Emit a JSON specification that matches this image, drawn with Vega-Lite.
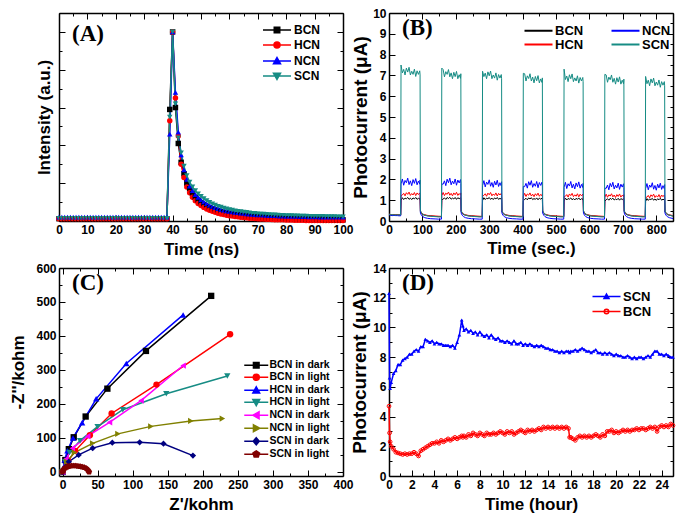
{
"$schema":"https://vega.github.io/schema/vega-lite/v6.json",
"background":"white",
"padding":{"left":9,"top":7,"right":5,"bottom":5},
"columns":2,
"bounds":"flush",
"spacing":{"row":47,"column":46},
"config":{
 "view":{"stroke":null},
 "axis":{"labelFont":"Liberation Sans","labelFontWeight":"bold","labelFontSize":12,"labelColor":"#000","titleFont":"Liberation Sans","titleFontWeight":"bold","titleFontSize":17,"titleColor":"#000","domainColor":"#000","domainWidth":1.5,"tickColor":"#000","tickWidth":1,"grid":false,"labelFlush":false,"labelOverlap":false,"labelBound":false,"labelPadding":9},
 "legend":{"labelFont":"Liberation Sans","labelFontWeight":"bold","labelFontSize":12,"labelColor":"#000","padding":0,"symbolSize":100,"symbolStrokeWidth":1.5,"symbolOpacity":1},
 "title":{"font":"Liberation Serif","fontSize":23,"fontWeight":"bold","color":"#000","anchor":"start","frame":"group"}
},
"datasets":{
"A":[
{"t":0,"BCN":0.012,"HCN":0.012,"NCN":0.02,"SCN":0.014},{"t":1,"BCN":0.012,"HCN":0.012,"NCN":0.02,"SCN":0.014},{"t":2,"BCN":0.012,"HCN":0.012,"NCN":0.02,"SCN":0.014},{"t":3,"BCN":0.012,"HCN":0.012,"NCN":0.02,"SCN":0.014},{"t":4,"BCN":0.012,"HCN":0.012,"NCN":0.02,"SCN":0.014},{"t":5,"BCN":0.012,"HCN":0.012,"NCN":0.02,"SCN":0.014},{"t":6,"BCN":0.012,"HCN":0.012,"NCN":0.02,"SCN":0.014},{"t":7,"BCN":0.012,"HCN":0.012,"NCN":0.02,"SCN":0.014},{"t":8,"BCN":0.012,"HCN":0.012,"NCN":0.02,"SCN":0.014},{"t":9,"BCN":0.012,"HCN":0.012,"NCN":0.02,"SCN":0.014},
{"t":10,"BCN":0.012,"HCN":0.012,"NCN":0.02,"SCN":0.014},{"t":11,"BCN":0.012,"HCN":0.012,"NCN":0.02,"SCN":0.014},{"t":12,"BCN":0.012,"HCN":0.012,"NCN":0.02,"SCN":0.014},{"t":13,"BCN":0.012,"HCN":0.012,"NCN":0.02,"SCN":0.014},{"t":14,"BCN":0.012,"HCN":0.012,"NCN":0.02,"SCN":0.014},{"t":15,"BCN":0.012,"HCN":0.012,"NCN":0.02,"SCN":0.014},{"t":16,"BCN":0.012,"HCN":0.012,"NCN":0.02,"SCN":0.014},{"t":17,"BCN":0.012,"HCN":0.012,"NCN":0.02,"SCN":0.014},{"t":18,"BCN":0.012,"HCN":0.012,"NCN":0.02,"SCN":0.014},{"t":19,"BCN":0.012,"HCN":0.012,"NCN":0.02,"SCN":0.014},
{"t":20,"BCN":0.012,"HCN":0.012,"NCN":0.02,"SCN":0.014},{"t":21,"BCN":0.012,"HCN":0.012,"NCN":0.02,"SCN":0.014},{"t":22,"BCN":0.012,"HCN":0.012,"NCN":0.02,"SCN":0.014},{"t":23,"BCN":0.012,"HCN":0.012,"NCN":0.02,"SCN":0.014},{"t":24,"BCN":0.012,"HCN":0.012,"NCN":0.02,"SCN":0.014},{"t":25,"BCN":0.012,"HCN":0.012,"NCN":0.02,"SCN":0.014},{"t":26,"BCN":0.012,"HCN":0.012,"NCN":0.02,"SCN":0.014},{"t":27,"BCN":0.012,"HCN":0.012,"NCN":0.02,"SCN":0.014},{"t":28,"BCN":0.012,"HCN":0.012,"NCN":0.02,"SCN":0.014},{"t":29,"BCN":0.012,"HCN":0.012,"NCN":0.02,"SCN":0.014},
{"t":30,"BCN":0.012,"HCN":0.012,"NCN":0.02,"SCN":0.014},{"t":31,"BCN":0.012,"HCN":0.012,"NCN":0.02,"SCN":0.014},{"t":32,"BCN":0.012,"HCN":0.012,"NCN":0.02,"SCN":0.014},{"t":33,"BCN":0.012,"HCN":0.012,"NCN":0.02,"SCN":0.014},{"t":34,"BCN":0.012,"HCN":0.012,"NCN":0.02,"SCN":0.014},{"t":35,"BCN":0.012,"HCN":0.012,"NCN":0.02,"SCN":0.014},{"t":36,"BCN":0.012,"HCN":0.012,"NCN":0.02,"SCN":0.014},{"t":37,"BCN":0.012,"HCN":0.012,"NCN":0.02,"SCN":0.014},{"t":38,"BCN":0.012,"HCN":0.012,"NCN":0.02,"SCN":0.014},
{"t":39,"BCN":0.59,"HCN":0.53,"NCN":0.46,"SCN":0.55},{"t":40,"BCN":1,"HCN":1,"NCN":1,"SCN":1},{"t":41,"BCN":0.6,"HCN":0.65,"NCN":0.68,"SCN":0.62},{"t":42,"BCN":0.41,"HCN":0.45,"NCN":0.47,"SCN":0.44},{"t":43,"BCN":0.31,"HCN":0.3,"NCN":0.35,"SCN":0.36},{"t":44,"BCN":0.25,"HCN":0.23,"NCN":0.27,"SCN":0.29},{"t":45,"BCN":0.2,"HCN":0.18,"NCN":0.22,"SCN":0.24},{"t":46,"BCN":0.17,"HCN":0.15,"NCN":0.185,"SCN":0.205},{"t":47,"BCN":0.145,"HCN":0.125,"NCN":0.16,"SCN":0.18},{"t":48,"BCN":0.125,"HCN":0.107,"NCN":0.14,"SCN":0.16},{"t":49,"BCN":0.11,"HCN":0.093,"NCN":0.125,"SCN":0.143},
{"t":50,"BCN":0.097,"HCN":0.082,"NCN":0.112,"SCN":0.13},{"t":51,"BCN":0.087,"HCN":0.072,"NCN":0.101,"SCN":0.118},{"t":52,"BCN":0.078,"HCN":0.064,"NCN":0.092,"SCN":0.108},{"t":53,"BCN":0.07,"HCN":0.057,"NCN":0.084,"SCN":0.099},{"t":54,"BCN":0.064,"HCN":0.051,"NCN":0.077,"SCN":0.091},{"t":55,"BCN":0.058,"HCN":0.046,"NCN":0.071,"SCN":0.084},{"t":56,"BCN":0.053,"HCN":0.041,"NCN":0.066,"SCN":0.078},{"t":57,"BCN":0.049,"HCN":0.037,"NCN":0.061,"SCN":0.073},{"t":58,"BCN":0.045,"HCN":0.034,"NCN":0.057,"SCN":0.068},{"t":59,"BCN":0.042,"HCN":0.031,"NCN":0.054,"SCN":0.064},
{"t":60,"BCN":0.039,"HCN":0.028,"NCN":0.051,"SCN":0.06},{"t":61,"BCN":0.036,"HCN":0.026,"NCN":0.048,"SCN":0.057},{"t":62,"BCN":0.034,"HCN":0.024,"NCN":0.046,"SCN":0.054},{"t":63,"BCN":0.032,"HCN":0.022,"NCN":0.044,"SCN":0.051},{"t":64,"BCN":0.03,"HCN":0.02,"NCN":0.042,"SCN":0.049},{"t":65,"BCN":0.028,"HCN":0.018,"NCN":0.04,"SCN":0.047},{"t":66,"BCN":0.026,"HCN":0.017,"NCN":0.038,"SCN":0.045},{"t":67,"BCN":0.025,"HCN":0.015,"NCN":0.037,"SCN":0.043},{"t":68,"BCN":0.023,"HCN":0.014,"NCN":0.035,"SCN":0.041},{"t":69,"BCN":0.022,"HCN":0.013,"NCN":0.034,"SCN":0.04},
{"t":70,"BCN":0.021,"HCN":0.012,"NCN":0.033,"SCN":0.038},{"t":71,"BCN":0.02,"HCN":0.011,"NCN":0.032,"SCN":0.037},{"t":72,"BCN":0.019,"HCN":0.01,"NCN":0.031,"SCN":0.036},{"t":73,"BCN":0.018,"HCN":0.009,"NCN":0.03,"SCN":0.035},{"t":74,"BCN":0.017,"HCN":0.009,"NCN":0.029,"SCN":0.034},{"t":75,"BCN":0.016,"HCN":0.008,"NCN":0.028,"SCN":0.033},{"t":76,"BCN":0.015,"HCN":0.007,"NCN":0.028,"SCN":0.032},{"t":77,"BCN":0.014,"HCN":0.007,"NCN":0.027,"SCN":0.031},{"t":78,"BCN":0.014,"HCN":0.006,"NCN":0.026,"SCN":0.03},{"t":79,"BCN":0.013,"HCN":0.006,"NCN":0.026,"SCN":0.03},
{"t":80,"BCN":0.012,"HCN":0.005,"NCN":0.025,"SCN":0.029},{"t":81,"BCN":0.012,"HCN":0.005,"NCN":0.025,"SCN":0.028},{"t":82,"BCN":0.011,"HCN":0.005,"NCN":0.024,"SCN":0.028},{"t":83,"BCN":0.011,"HCN":0.004,"NCN":0.024,"SCN":0.027},{"t":84,"BCN":0.01,"HCN":0.004,"NCN":0.024,"SCN":0.027},{"t":85,"BCN":0.01,"HCN":0.004,"NCN":0.023,"SCN":0.026},{"t":86,"BCN":0.01,"HCN":0.004,"NCN":0.023,"SCN":0.026},{"t":87,"BCN":0.009,"HCN":0.003,"NCN":0.023,"SCN":0.026},{"t":88,"BCN":0.009,"HCN":0.003,"NCN":0.022,"SCN":0.025},{"t":89,"BCN":0.009,"HCN":0.003,"NCN":0.022,"SCN":0.025},
{"t":90,"BCN":0.008,"HCN":0.003,"NCN":0.022,"SCN":0.025},{"t":91,"BCN":0.008,"HCN":0.003,"NCN":0.022,"SCN":0.024},{"t":92,"BCN":0.008,"HCN":0.003,"NCN":0.021,"SCN":0.024},{"t":93,"BCN":0.008,"HCN":0.002,"NCN":0.021,"SCN":0.024},{"t":94,"BCN":0.007,"HCN":0.002,"NCN":0.021,"SCN":0.023},{"t":95,"BCN":0.007,"HCN":0.002,"NCN":0.021,"SCN":0.023},{"t":96,"BCN":0.007,"HCN":0.002,"NCN":0.021,"SCN":0.023},{"t":97,"BCN":0.007,"HCN":0.002,"NCN":0.02,"SCN":0.023},{"t":98,"BCN":0.006,"HCN":0.002,"NCN":0.02,"SCN":0.022},{"t":99,"BCN":0.006,"HCN":0.002,"NCN":0.02,"SCN":0.022},{"t":100,"BCN":0.006,"HCN":0.002,"NCN":0.02,"SCN":0.022}
],
"B":[
{"t":0,"BCN":0.32,"HCN":0.33,"NCN":0.3,"SCN":0.33},{"t":5,"BCN":0.3,"HCN":0.31,"NCN":0.27,"SCN":0.3},{"t":10,"BCN":0.29,"HCN":0.3,"NCN":0.26,"SCN":0.31},{"t":15,"BCN":0.3,"HCN":0.3,"NCN":0.27,"SCN":0.29},{"t":20,"BCN":0.29,"HCN":0.31,"NCN":0.26,"SCN":0.3},{"t":25,"BCN":0.3,"HCN":0.3,"NCN":0.26,"SCN":0.29},{"t":30,"BCN":0.29,"HCN":0.3,"NCN":0.25,"SCN":0.3},{"t":35,"BCN":0.29,"HCN":0.29,"NCN":0.25,"SCN":0.29},
{"t":36,"BCN":0.98,"HCN":1.22,"NCN":1.78,"SCN":7.5},{"t":40,"BCN":1.12,"HCN":1.25,"NCN":2.02,"SCN":7.12},{"t":44,"BCN":1.03,"HCN":1.33,"NCN":1.72,"SCN":7.29},{"t":48,"BCN":1.1,"HCN":1.21,"NCN":1.95,"SCN":7.02},{"t":52,"BCN":1.07,"HCN":1.36,"NCN":1.84,"SCN":7.35},{"t":56,"BCN":1.13,"HCN":1.28,"NCN":2.06,"SCN":7.16},{"t":60,"BCN":1.04,"HCN":1.39,"NCN":1.75,"SCN":7.39},{"t":64,"BCN":1.1,"HCN":1.23,"NCN":1.93,"SCN":7.02},{"t":68,"BCN":1.03,"HCN":1.32,"NCN":1.7,"SCN":7.2},{"t":72,"BCN":1.11,"HCN":1.25,"NCN":1.99,"SCN":7.05},{"t":76,"BCN":1.06,"HCN":1.37,"NCN":1.81,"SCN":7.3},{"t":80,"BCN":1.13,"HCN":1.22,"NCN":2.04,"SCN":6.95},{"t":84,"BCN":1.04,"HCN":1.35,"NCN":1.74,"SCN":7.22},{"t":88,"BCN":1.09,"HCN":1.27,"NCN":1.92,"SCN":7.05},{"t":92,"BCN":1.05,"HCN":1.35,"NCN":1.77,"SCN":7.22},{"t":93,"BCN":1.11,"HCN":1.26,"NCN":1.97,"SCN":7.02},
{"t":94,"BCN":0.45,"HCN":0.48,"NCN":0.38,"SCN":0.5},{"t":97,"BCN":0.37,"HCN":0.4,"NCN":0.28,"SCN":0.4},{"t":101,"BCN":0.31,"HCN":0.33,"NCN":0.21,"SCN":0.33},{"t":107,"BCN":0.28,"HCN":0.3,"NCN":0.16,"SCN":0.28},{"t":115,"BCN":0.25,"HCN":0.27,"NCN":0.13,"SCN":0.25},{"t":125,"BCN":0.24,"HCN":0.25,"NCN":0.11,"SCN":0.23},{"t":138,"BCN":0.22,"HCN":0.24,"NCN":0.1,"SCN":0.21},{"t":148,"BCN":0.21,"HCN":0.23,"NCN":0.09,"SCN":0.2},{"t":157,"BCN":0.21,"HCN":0.22,"NCN":0.09,"SCN":0.2},
{"t":158,"BCN":0.99,"HCN":1.22,"NCN":1.78,"SCN":7.35},{"t":162,"BCN":1.06,"HCN":1.37,"NCN":1.77,"SCN":7.28},{"t":166,"BCN":1.11,"HCN":1.22,"NCN":1.93,"SCN":6.93},{"t":170,"BCN":1.04,"HCN":1.34,"NCN":1.7,"SCN":7.18},{"t":174,"BCN":1.13,"HCN":1.28,"NCN":2.01,"SCN":7.05},{"t":178,"BCN":1.08,"HCN":1.39,"NCN":1.84,"SCN":7.28},{"t":182,"BCN":1.14,"HCN":1.24,"NCN":2.06,"SCN":6.93},{"t":186,"BCN":1.05,"HCN":1.33,"NCN":1.74,"SCN":7.12},{"t":190,"BCN":1.1,"HCN":1.21,"NCN":1.92,"SCN":6.84},{"t":194,"BCN":1.06,"HCN":1.35,"NCN":1.79,"SCN":7.15},{"t":198,"BCN":1.13,"HCN":1.26,"NCN":2.02,"SCN":6.94},{"t":202,"BCN":1.04,"HCN":1.38,"NCN":1.72,"SCN":7.19},{"t":206,"BCN":1.12,"HCN":1.23,"NCN":1.97,"SCN":6.84},{"t":210,"BCN":1.07,"HCN":1.32,"NCN":1.83,"SCN":7.03},{"t":214,"BCN":1.12,"HCN":1.25,"NCN":1.99,"SCN":6.86},{"t":215,"BCN":1.07,"HCN":1.35,"NCN":1.81,"SCN":7.08},
{"t":216,"BCN":0.45,"HCN":0.48,"NCN":0.38,"SCN":0.5},{"t":219,"BCN":0.37,"HCN":0.4,"NCN":0.28,"SCN":0.4},{"t":223,"BCN":0.31,"HCN":0.33,"NCN":0.21,"SCN":0.33},{"t":229,"BCN":0.28,"HCN":0.3,"NCN":0.16,"SCN":0.28},{"t":237,"BCN":0.25,"HCN":0.27,"NCN":0.13,"SCN":0.25},{"t":247,"BCN":0.24,"HCN":0.25,"NCN":0.11,"SCN":0.23},{"t":260,"BCN":0.22,"HCN":0.24,"NCN":0.1,"SCN":0.21},{"t":270,"BCN":0.21,"HCN":0.23,"NCN":0.09,"SCN":0.2},{"t":279,"BCN":0.21,"HCN":0.22,"NCN":0.09,"SCN":0.2},
{"t":280,"BCN":0.98,"HCN":1.2,"NCN":1.7,"SCN":7.2},{"t":284,"BCN":1.12,"HCN":1.23,"NCN":1.94,"SCN":6.94},{"t":288,"BCN":1.03,"HCN":1.31,"NCN":1.64,"SCN":7.11},{"t":292,"BCN":1.1,"HCN":1.19,"NCN":1.87,"SCN":6.84},{"t":296,"BCN":1.07,"HCN":1.34,"NCN":1.76,"SCN":7.17},{"t":300,"BCN":1.13,"HCN":1.26,"NCN":1.98,"SCN":6.98},{"t":304,"BCN":1.04,"HCN":1.37,"NCN":1.67,"SCN":7.21},{"t":308,"BCN":1.1,"HCN":1.21,"NCN":1.85,"SCN":6.84},{"t":312,"BCN":1.03,"HCN":1.3,"NCN":1.62,"SCN":7.02},{"t":316,"BCN":1.11,"HCN":1.23,"NCN":1.91,"SCN":6.87},{"t":320,"BCN":1.06,"HCN":1.35,"NCN":1.73,"SCN":7.12},{"t":324,"BCN":1.13,"HCN":1.2,"NCN":1.96,"SCN":6.77},{"t":328,"BCN":1.04,"HCN":1.33,"NCN":1.66,"SCN":7.04},{"t":332,"BCN":1.09,"HCN":1.25,"NCN":1.84,"SCN":6.87},{"t":336,"BCN":1.05,"HCN":1.33,"NCN":1.69,"SCN":7.04},{"t":337,"BCN":1.11,"HCN":1.24,"NCN":1.89,"SCN":6.84},
{"t":338,"BCN":0.45,"HCN":0.48,"NCN":0.38,"SCN":0.5},{"t":341,"BCN":0.37,"HCN":0.4,"NCN":0.28,"SCN":0.4},{"t":345,"BCN":0.31,"HCN":0.33,"NCN":0.21,"SCN":0.33},{"t":351,"BCN":0.28,"HCN":0.3,"NCN":0.16,"SCN":0.28},{"t":359,"BCN":0.25,"HCN":0.27,"NCN":0.13,"SCN":0.25},{"t":369,"BCN":0.24,"HCN":0.25,"NCN":0.11,"SCN":0.23},{"t":382,"BCN":0.22,"HCN":0.24,"NCN":0.1,"SCN":0.21},{"t":392,"BCN":0.21,"HCN":0.23,"NCN":0.09,"SCN":0.2},{"t":401,"BCN":0.21,"HCN":0.22,"NCN":0.09,"SCN":0.2},
{"t":402,"BCN":0.97,"HCN":1.18,"NCN":1.66,"SCN":7.1},{"t":406,"BCN":1.04,"HCN":1.33,"NCN":1.65,"SCN":7.08},{"t":410,"BCN":1.09,"HCN":1.18,"NCN":1.81,"SCN":6.73},{"t":414,"BCN":1.02,"HCN":1.3,"NCN":1.58,"SCN":6.98},{"t":418,"BCN":1.11,"HCN":1.24,"NCN":1.89,"SCN":6.85},{"t":422,"BCN":1.06,"HCN":1.35,"NCN":1.72,"SCN":7.08},{"t":426,"BCN":1.12,"HCN":1.2,"NCN":1.94,"SCN":6.73},{"t":430,"BCN":1.03,"HCN":1.29,"NCN":1.62,"SCN":6.92},{"t":434,"BCN":1.08,"HCN":1.17,"NCN":1.8,"SCN":6.64},{"t":438,"BCN":1.04,"HCN":1.31,"NCN":1.67,"SCN":6.95},{"t":442,"BCN":1.11,"HCN":1.22,"NCN":1.9,"SCN":6.74},{"t":446,"BCN":1.02,"HCN":1.34,"NCN":1.6,"SCN":6.99},{"t":450,"BCN":1.1,"HCN":1.19,"NCN":1.85,"SCN":6.64},{"t":454,"BCN":1.05,"HCN":1.28,"NCN":1.71,"SCN":6.83},{"t":458,"BCN":1.1,"HCN":1.21,"NCN":1.87,"SCN":6.66},{"t":459,"BCN":1.05,"HCN":1.31,"NCN":1.69,"SCN":6.88},
{"t":460,"BCN":0.45,"HCN":0.48,"NCN":0.38,"SCN":0.5},{"t":463,"BCN":0.37,"HCN":0.4,"NCN":0.28,"SCN":0.4},{"t":467,"BCN":0.31,"HCN":0.33,"NCN":0.21,"SCN":0.33},{"t":473,"BCN":0.28,"HCN":0.3,"NCN":0.16,"SCN":0.28},{"t":481,"BCN":0.25,"HCN":0.27,"NCN":0.13,"SCN":0.25},{"t":491,"BCN":0.24,"HCN":0.25,"NCN":0.11,"SCN":0.23},{"t":504,"BCN":0.22,"HCN":0.24,"NCN":0.1,"SCN":0.21},{"t":514,"BCN":0.21,"HCN":0.23,"NCN":0.09,"SCN":0.2},{"t":523,"BCN":0.21,"HCN":0.22,"NCN":0.09,"SCN":0.2},
{"t":524,"BCN":0.96,"HCN":1.16,"NCN":1.62,"SCN":7.3},{"t":528,"BCN":1.1,"HCN":1.19,"NCN":1.86,"SCN":6.8},{"t":532,"BCN":1.01,"HCN":1.27,"NCN":1.56,"SCN":6.97},{"t":536,"BCN":1.08,"HCN":1.15,"NCN":1.79,"SCN":6.7},{"t":540,"BCN":1.05,"HCN":1.3,"NCN":1.68,"SCN":7.03},{"t":544,"BCN":1.11,"HCN":1.22,"NCN":1.9,"SCN":6.84},{"t":548,"BCN":1.02,"HCN":1.33,"NCN":1.59,"SCN":7.07},{"t":552,"BCN":1.08,"HCN":1.17,"NCN":1.77,"SCN":6.7},{"t":556,"BCN":1.01,"HCN":1.26,"NCN":1.54,"SCN":6.88},{"t":560,"BCN":1.09,"HCN":1.19,"NCN":1.83,"SCN":6.73},{"t":564,"BCN":1.04,"HCN":1.31,"NCN":1.65,"SCN":6.98},{"t":568,"BCN":1.11,"HCN":1.16,"NCN":1.88,"SCN":6.63},{"t":572,"BCN":1.02,"HCN":1.29,"NCN":1.58,"SCN":6.9},{"t":576,"BCN":1.07,"HCN":1.21,"NCN":1.76,"SCN":6.73},{"t":580,"BCN":1.03,"HCN":1.29,"NCN":1.61,"SCN":6.9},{"t":581,"BCN":1.09,"HCN":1.2,"NCN":1.81,"SCN":6.7},
{"t":582,"BCN":0.45,"HCN":0.48,"NCN":0.38,"SCN":0.5},{"t":585,"BCN":0.37,"HCN":0.4,"NCN":0.28,"SCN":0.4},{"t":589,"BCN":0.31,"HCN":0.33,"NCN":0.21,"SCN":0.33},{"t":595,"BCN":0.28,"HCN":0.3,"NCN":0.16,"SCN":0.28},{"t":603,"BCN":0.25,"HCN":0.27,"NCN":0.13,"SCN":0.25},{"t":613,"BCN":0.24,"HCN":0.25,"NCN":0.11,"SCN":0.23},{"t":626,"BCN":0.22,"HCN":0.24,"NCN":0.1,"SCN":0.21},{"t":636,"BCN":0.21,"HCN":0.23,"NCN":0.09,"SCN":0.2},{"t":645,"BCN":0.21,"HCN":0.22,"NCN":0.09,"SCN":0.2},
{"t":646,"BCN":0.95,"HCN":1.14,"NCN":1.58,"SCN":7.05},{"t":650,"BCN":1.02,"HCN":1.29,"NCN":1.57,"SCN":7.02},{"t":654,"BCN":1.07,"HCN":1.14,"NCN":1.73,"SCN":6.67},{"t":658,"BCN":1.0,"HCN":1.26,"NCN":1.5,"SCN":6.92},{"t":662,"BCN":1.09,"HCN":1.2,"NCN":1.81,"SCN":6.79},{"t":666,"BCN":1.04,"HCN":1.31,"NCN":1.64,"SCN":7.02},{"t":670,"BCN":1.1,"HCN":1.16,"NCN":1.86,"SCN":6.67},{"t":674,"BCN":1.01,"HCN":1.25,"NCN":1.54,"SCN":6.86},{"t":678,"BCN":1.06,"HCN":1.13,"NCN":1.72,"SCN":6.58},{"t":682,"BCN":1.02,"HCN":1.27,"NCN":1.59,"SCN":6.89},{"t":686,"BCN":1.09,"HCN":1.18,"NCN":1.82,"SCN":6.68},{"t":690,"BCN":1.0,"HCN":1.3,"NCN":1.52,"SCN":6.93},{"t":694,"BCN":1.08,"HCN":1.15,"NCN":1.77,"SCN":6.58},{"t":698,"BCN":1.03,"HCN":1.24,"NCN":1.63,"SCN":6.77},{"t":702,"BCN":1.08,"HCN":1.17,"NCN":1.79,"SCN":6.6},{"t":703,"BCN":1.03,"HCN":1.27,"NCN":1.61,"SCN":6.82},
{"t":704,"BCN":0.45,"HCN":0.48,"NCN":0.38,"SCN":0.5},{"t":707,"BCN":0.37,"HCN":0.4,"NCN":0.28,"SCN":0.4},{"t":711,"BCN":0.31,"HCN":0.33,"NCN":0.21,"SCN":0.33},{"t":717,"BCN":0.28,"HCN":0.3,"NCN":0.16,"SCN":0.28},{"t":725,"BCN":0.25,"HCN":0.27,"NCN":0.13,"SCN":0.25},{"t":735,"BCN":0.24,"HCN":0.25,"NCN":0.11,"SCN":0.23},{"t":748,"BCN":0.22,"HCN":0.24,"NCN":0.1,"SCN":0.21},{"t":758,"BCN":0.21,"HCN":0.23,"NCN":0.09,"SCN":0.2},{"t":767,"BCN":0.21,"HCN":0.22,"NCN":0.09,"SCN":0.2},
{"t":768,"BCN":0.94,"HCN":1.12,"NCN":1.56,"SCN":6.95},{"t":772,"BCN":1.08,"HCN":1.15,"NCN":1.8,"SCN":6.6},{"t":776,"BCN":0.99,"HCN":1.23,"NCN":1.5,"SCN":6.77},{"t":780,"BCN":1.06,"HCN":1.11,"NCN":1.73,"SCN":6.5},{"t":784,"BCN":1.03,"HCN":1.26,"NCN":1.62,"SCN":6.83},{"t":788,"BCN":1.09,"HCN":1.18,"NCN":1.84,"SCN":6.64},{"t":792,"BCN":1.0,"HCN":1.29,"NCN":1.53,"SCN":6.87},{"t":796,"BCN":1.06,"HCN":1.13,"NCN":1.71,"SCN":6.5},{"t":800,"BCN":0.99,"HCN":1.22,"NCN":1.48,"SCN":6.68},{"t":804,"BCN":1.07,"HCN":1.15,"NCN":1.77,"SCN":6.53},{"t":808,"BCN":1.02,"HCN":1.27,"NCN":1.59,"SCN":6.78},{"t":812,"BCN":1.09,"HCN":1.12,"NCN":1.82,"SCN":6.43},{"t":816,"BCN":1.0,"HCN":1.25,"NCN":1.52,"SCN":6.7},{"t":820,"BCN":1.05,"HCN":1.17,"NCN":1.7,"SCN":6.53},{"t":824,"BCN":1.01,"HCN":1.25,"NCN":1.55,"SCN":6.7},{"t":825,"BCN":1.07,"HCN":1.16,"NCN":1.75,"SCN":6.5},
{"t":826,"BCN":0.45,"HCN":0.48,"NCN":0.38,"SCN":0.5},{"t":829,"BCN":0.37,"HCN":0.4,"NCN":0.28,"SCN":0.4},{"t":833,"BCN":0.31,"HCN":0.33,"NCN":0.21,"SCN":0.33},{"t":839,"BCN":0.28,"HCN":0.3,"NCN":0.16,"SCN":0.28},{"t":847,"BCN":0.25,"HCN":0.27,"NCN":0.13,"SCN":0.25},{"t":850,"BCN":0.24,"HCN":0.26,"NCN":0.12,"SCN":0.24}
],
"C":[
{"x":0,"y":0,"s":"BCN in dark"},{"x":4,"y":35,"s":"BCN in dark"},{"x":9,"y":67,"s":"BCN in dark"},{"x":16,"y":102,"s":"BCN in dark"},{"x":33,"y":163,"s":"BCN in dark"},{"x":64,"y":245,"s":"BCN in dark"},{"x":119,"y":356,"s":"BCN in dark"},{"x":212,"y":518,"s":"BCN in dark"},
{"x":0,"y":0,"s":"BCN in light"},{"x":8,"y":32,"s":"BCN in light"},{"x":18,"y":62,"s":"BCN in light"},{"x":39,"y":108,"s":"BCN in light"},{"x":70,"y":172,"s":"BCN in light"},{"x":134,"y":257,"s":"BCN in light"},{"x":239,"y":405,"s":"BCN in light"},
{"x":0,"y":0,"s":"HCN in dark"},{"x":3,"y":35,"s":"HCN in dark"},{"x":7,"y":62,"s":"HCN in dark"},{"x":15,"y":100,"s":"HCN in dark"},{"x":28,"y":145,"s":"HCN in dark"},{"x":48,"y":215,"s":"HCN in dark"},{"x":91,"y":319,"s":"HCN in dark"},{"x":172,"y":462,"s":"HCN in dark"},
{"x":0,"y":0,"s":"HCN in light"},{"x":4,"y":30,"s":"HCN in light"},{"x":10,"y":57,"s":"HCN in light"},{"x":25,"y":92,"s":"HCN in light"},{"x":50,"y":133,"s":"HCN in light"},{"x":86,"y":183,"s":"HCN in light"},{"x":148,"y":230,"s":"HCN in light"},{"x":235,"y":282,"s":"HCN in light"},
{"x":0,"y":0,"s":"NCN in dark"},{"x":5,"y":38,"s":"NCN in dark"},{"x":14,"y":70,"s":"NCN in dark"},{"x":36,"y":105,"s":"NCN in dark"},{"x":67,"y":146,"s":"NCN in dark"},{"x":112,"y":210,"s":"NCN in dark"},{"x":172,"y":313,"s":"NCN in dark"},
{"x":0,"y":0,"s":"NCN in light"},{"x":6,"y":30,"s":"NCN in light"},{"x":17,"y":57,"s":"NCN in light"},{"x":43,"y":84,"s":"NCN in light"},{"x":79,"y":112,"s":"NCN in light"},{"x":126,"y":134,"s":"NCN in light"},{"x":183,"y":150,"s":"NCN in light"},{"x":228,"y":157,"s":"NCN in light"},
{"x":0,"y":0,"s":"SCN in dark"},{"x":4,"y":15,"s":"SCN in dark"},{"x":9,"y":30,"s":"SCN in dark"},{"x":23,"y":50,"s":"SCN in dark"},{"x":43,"y":70,"s":"SCN in dark"},{"x":71,"y":86,"s":"SCN in dark"},{"x":110,"y":87,"s":"SCN in dark"},{"x":144,"y":83,"s":"SCN in dark"},{"x":186,"y":48,"s":"SCN in dark"},
{"x":0,"y":0,"s":"SCN in light"},{"x":1,"y":5,"s":"SCN in light"},{"x":2,"y":9,"s":"SCN in light"},{"x":4,"y":12,"s":"SCN in light"},{"x":6,"y":14,"s":"SCN in light"},{"x":8,"y":16,"s":"SCN in light"},{"x":10,"y":17,"s":"SCN in light"},{"x":13,"y":18,"s":"SCN in light"},{"x":16,"y":18,"s":"SCN in light"},{"x":19,"y":18,"s":"SCN in light"},{"x":22,"y":17,"s":"SCN in light"},{"x":25,"y":16,"s":"SCN in light"},{"x":28,"y":15,"s":"SCN in light"},{"x":31,"y":13,"s":"SCN in light"},{"x":34,"y":10,"s":"SCN in light"},{"x":36,"y":6,"s":"SCN in light"},{"x":37,"y":3,"s":"SCN in light"},{"x":38,"y":0,"s":"SCN in light"}
],
"D":[
{"t":0,"SCN":12.3,"BCN":4.7},{"t":0.05,"SCN":6.6,"BCN":2.9},{"t":0.1,"SCN":5.9,"BCN":2.3},{"t":0.2,"SCN":6.3,"BCN":2.0},{"t":0.4,"SCN":6.9,"BCN":1.8},{"t":0.6,"SCN":7.1,"BCN":1.6},{"t":0.8,"SCN":7.5,"BCN":1.55},{"t":1.0,"SCN":7.5,"BCN":1.5},{"t":1.2,"SCN":7.8,"BCN":1.45},{"t":1.4,"SCN":7.9,"BCN":1.5},{"t":1.6,"SCN":8.0,"BCN":1.45},{"t":1.8,"SCN":8.2,"BCN":1.5},{"t":2.0,"SCN":8.2,"BCN":1.5},{"t":2.2,"SCN":8.4,"BCN":1.6},{"t":2.4,"SCN":8.5,"BCN":1.5},{"t":2.6,"SCN":8.4,"BCN":1.35},{"t":2.8,"SCN":8.7,"BCN":1.7},{"t":3.0,"SCN":8.7,"BCN":1.8},{"t":3.2,"SCN":9.2,"BCN":1.9},{"t":3.4,"SCN":9.1,"BCN":2.0},{"t":3.6,"SCN":9.0,"BCN":2.1},{"t":3.8,"SCN":9.1,"BCN":2.2},{"t":4.0,"SCN":8.9,"BCN":2.2},{"t":4.2,"SCN":9.0,"BCN":2.3},{"t":4.4,"SCN":8.9,"BCN":2.2},{"t":4.6,"SCN":8.9,"BCN":2.4},{"t":4.8,"SCN":8.8,"BCN":2.3},{"t":5.0,"SCN":8.8,"BCN":2.4},{"t":5.2,"SCN":8.8,"BCN":2.5},{"t":5.4,"SCN":8.7,"BCN":2.4},{"t":5.6,"SCN":8.8,"BCN":2.5},{"t":5.8,"SCN":8.6,"BCN":2.6},{"t":6.0,"SCN":9.0,"BCN":2.5},{"t":6.2,"SCN":9.5,"BCN":2.6},{"t":6.4,"SCN":10.5,"BCN":2.7},{"t":6.5,"SCN":10.1,"BCN":2.6},{"t":6.6,"SCN":9.8,"BCN":2.7},{"t":6.8,"SCN":9.9,"BCN":2.6},{"t":7.0,"SCN":9.7,"BCN":2.8},{"t":7.2,"SCN":9.8,"BCN":2.7},{"t":7.4,"SCN":9.6,"BCN":2.9},{"t":7.6,"SCN":9.7,"BCN":2.8},{"t":7.8,"SCN":9.5,"BCN":2.7},{"t":8.0,"SCN":9.7,"BCN":2.9},{"t":8.2,"SCN":9.5,"BCN":2.8},{"t":8.4,"SCN":9.4,"BCN":2.7},{"t":8.6,"SCN":9.5,"BCN":2.9},{"t":8.8,"SCN":9.3,"BCN":2.8},{"t":9.0,"SCN":9.5,"BCN":2.8},{"t":9.2,"SCN":9.3,"BCN":2.9},{"t":9.4,"SCN":9.2,"BCN":2.8},{"t":9.6,"SCN":9.3,"BCN":2.9},{"t":9.8,"SCN":9.1,"BCN":3.0},{"t":10.0,"SCN":9.1,"BCN":2.9},{"t":10.2,"SCN":9.0,"BCN":2.8},{"t":10.4,"SCN":9.1,"BCN":3.0},{"t":10.6,"SCN":9.0,"BCN":2.9},{"t":10.8,"SCN":8.9,"BCN":3.0},{"t":11.0,"SCN":9.1,"BCN":2.8},{"t":11.2,"SCN":8.9,"BCN":2.9},{"t":11.4,"SCN":8.9,"BCN":3.0},{"t":11.6,"SCN":9.0,"BCN":3.1},{"t":11.8,"SCN":8.8,"BCN":3.0},{"t":12.0,"SCN":8.9,"BCN":2.9},{"t":12.2,"SCN":8.8,"BCN":3.1},{"t":12.4,"SCN":8.9,"BCN":3.0},{"t":12.6,"SCN":8.8,"BCN":3.1},{"t":12.8,"SCN":8.7,"BCN":3.0},{"t":13.0,"SCN":8.8,"BCN":3.1},{"t":13.2,"SCN":8.7,"BCN":3.2},{"t":13.4,"SCN":8.8,"BCN":3.1},{"t":13.6,"SCN":8.7,"BCN":3.3},{"t":13.8,"SCN":8.6,"BCN":3.2},{"t":14.0,"SCN":8.6,"BCN":3.3},{"t":14.2,"SCN":8.5,"BCN":3.2},{"t":14.4,"SCN":8.5,"BCN":3.3},{"t":14.6,"SCN":8.4,"BCN":3.2},{"t":14.8,"SCN":8.4,"BCN":3.3},{"t":15.0,"SCN":8.3,"BCN":3.2},{"t":15.2,"SCN":8.4,"BCN":3.3},{"t":15.4,"SCN":8.3,"BCN":3.2},{"t":15.6,"SCN":8.4,"BCN":3.3},{"t":15.8,"SCN":8.4,"BCN":3.2},{"t":15.9,"SCN":8.3,"BCN":2.6},{"t":16.0,"SCN":8.4,"BCN":2.6},{"t":16.2,"SCN":8.4,"BCN":2.5},{"t":16.4,"SCN":8.5,"BCN":2.4},{"t":16.6,"SCN":8.4,"BCN":2.6},{"t":16.8,"SCN":8.5,"BCN":2.7},{"t":17.0,"SCN":8.6,"BCN":2.6},{"t":17.2,"SCN":8.5,"BCN":2.7},{"t":17.4,"SCN":8.4,"BCN":2.6},{"t":17.6,"SCN":8.4,"BCN":2.7},{"t":17.8,"SCN":8.3,"BCN":2.6},{"t":18.0,"SCN":8.4,"BCN":2.7},{"t":18.2,"SCN":8.5,"BCN":2.8},{"t":18.4,"SCN":8.3,"BCN":2.7},{"t":18.6,"SCN":8.3,"BCN":2.6},{"t":18.8,"SCN":8.2,"BCN":2.8},{"t":19.0,"SCN":8.3,"BCN":2.7},{"t":19.2,"SCN":8.2,"BCN":3.0},{"t":19.4,"SCN":8.3,"BCN":3.0},{"t":19.6,"SCN":8.2,"BCN":3.1},{"t":19.8,"SCN":8.1,"BCN":2.9},{"t":20.0,"SCN":8.2,"BCN":3.0},{"t":20.2,"SCN":8.1,"BCN":2.9},{"t":20.4,"SCN":8.1,"BCN":3.0},{"t":20.6,"SCN":8.0,"BCN":3.1},{"t":20.8,"SCN":8.0,"BCN":3.0},{"t":21.0,"SCN":8.1,"BCN":3.1},{"t":21.2,"SCN":8.0,"BCN":3.0},{"t":21.4,"SCN":7.9,"BCN":3.1},{"t":21.6,"SCN":8.0,"BCN":3.1},{"t":21.8,"SCN":7.9,"BCN":3.2},{"t":22.0,"SCN":8.0,"BCN":3.1},{"t":22.2,"SCN":8.0,"BCN":3.2},{"t":22.4,"SCN":7.9,"BCN":3.2},{"t":22.6,"SCN":8.0,"BCN":3.1},{"t":22.8,"SCN":8.1,"BCN":3.2},{"t":23.0,"SCN":8.0,"BCN":3.3},{"t":23.2,"SCN":8.2,"BCN":3.2},{"t":23.4,"SCN":8.4,"BCN":3.3},{"t":23.6,"SCN":8.4,"BCN":3.0},{"t":23.8,"SCN":8.2,"BCN":3.3},{"t":24.0,"SCN":8.2,"BCN":3.4},{"t":24.2,"SCN":8.1,"BCN":3.3},{"t":24.4,"SCN":8.2,"BCN":3.4},{"t":24.6,"SCN":8.1,"BCN":3.3},{"t":24.8,"SCN":8.0,"BCN":3.5},{"t":25.0,"SCN":8.0,"BCN":3.4}
]
},
"resolve":{"scale":{"color":"independent","shape":"independent","stroke":"independent"},"legend":{"color":"independent","shape":"independent","stroke":"independent"}},
"concat":[
{
 "width":284,"height":208,
 "title":{"text":"(A)","offset":-33,"dx":13},
 "data":{"name":"A"},
 "transform":[{"fold":["BCN","HCN","NCN","SCN"],"as":["series","v"]}],
 "layer":[
  {"mark":{"type":"line","strokeWidth":1.5},
   "encoding":{
    "x":{"field":"t","type":"quantitative","scale":{"domain":[0,100],"nice":false},"axis":{"orient":"bottom","title":"Time (ns)","values":[0,5,10,15,20,25,30,35,40,45,50,55,60,65,70,75,80,85,90,95,100],"labelExpr":"datum.value % 10 === 0 ? datum.label : ''","tickSize":{"condition":{"test":"datum.value % 10 !== 0","value":-3},"value":-6},"titlePadding":3}},
    "y":{"field":"v","type":"quantitative","scale":{"domain":[0,1.1],"nice":false},"axis":{"orient":"left","title":"Intensity (a.u.)","labels":false,"values":[0,0.1,0.2,0.3,0.4,0.5,0.6,0.7,0.8,0.9,1,1.1],"tickSize":{"condition":{"test":"round(datum.value*10) % 2 === 1","value":-3},"value":-6},"titlePadding":5}},
    "color":{"field":"series","type":"nominal","scale":{"domain":["BCN","HCN","NCN","SCN"],"range":["#000000","#FF0000","#0000FF","#168C84"]},"legend":null}
   }},
  {"mark":{"type":"point","filled":true,"size":30,"opacity":1},
   "encoding":{
    "x":{"field":"t","type":"quantitative","scale":{"domain":[0,100],"nice":false},"axis":{"orient":"top","title":null,"labels":false,"values":[0,5,10,15,20,25,30,35,40,45,50,55,60,65,70,75,80,85,90,95,100],"tickSize":{"condition":{"test":"datum.value % 10 !== 0","value":-3},"value":-6}}},
    "y":{"field":"v","type":"quantitative","scale":{"domain":[0,1.1],"nice":false},"axis":{"orient":"right","title":null,"labels":false,"values":[0,0.1,0.2,0.3,0.4,0.5,0.6,0.7,0.8,0.9,1,1.1],"tickSize":{"condition":{"test":"round(datum.value*10) % 2 === 1","value":-3},"value":-6}}},
    "color":{"field":"series","type":"nominal","scale":{"domain":["BCN","HCN","NCN","SCN"],"range":["#000000","#FF0000","#0000FF","#168C84"]},"legend":null},
    "shape":{"field":"series","type":"nominal","scale":{"domain":["BCN","HCN","NCN","SCN"],"range":["square","circle","triangle-up","triangle-down"]},"legend":null}
   }},
  {"mark":{"type":"point","filled":true,"size":100,"opacity":0},
   "encoding":{
    "x":{"field":"t","type":"quantitative","scale":{"domain":[0,100],"nice":false},"axis":null},
    "y":{"field":"v","type":"quantitative","scale":{"domain":[0,1.1],"nice":false},"axis":null},
    "color":{"field":"series","type":"nominal","scale":{"domain":["BCN","HCN","NCN","SCN"],"range":["#000000","#FF0000","#0000FF","#168C84"]},"legend":{"orient":"none","legendX":203,"legendY":11,"title":null,"rowPadding":3,"symbolOffset":9,"labelOffset":11,"labelFontSize":12}},
    "stroke":{"field":"series","type":"nominal","scale":{"domain":["BCN","HCN","NCN","SCN"],"range":["#000000","#FF0000","#0000FF","#168C84"]},"legend":{"orient":"none","legendX":203,"legendY":11,"title":null,"rowPadding":3,"symbolOffset":9,"labelOffset":11,"labelFontSize":12}},
    "shape":{"field":"series","type":"nominal","scale":{"domain":["BCN","HCN","NCN","SCN"],"range":["M-2.8,0H2.8M-0.55,-0.55H0.55V0.55H-0.55Z","M-2.8,0H2.8M0.6,0A0.6,0.6,0,1,1,-0.6,0A0.6,0.6,0,1,1,0.6,0Z","M-2.8,0H2.8M0,-0.7L0.7,0.55H-0.7Z","M-2.8,0H2.8M0,0.7L0.7,-0.55H-0.7Z"]},"legend":{"orient":"none","legendX":203,"legendY":11,"title":null,"rowPadding":3,"symbolOffset":9,"labelOffset":11,"labelFontSize":12}}
   }}
 ],
 "resolve":{"axis":{"x":"independent","y":"independent"},"scale":{"color":"independent","shape":"independent","stroke":"independent"},"legend":{"color":"independent","shape":"independent","stroke":"independent"}}
},
{
 "width":284,"height":208,
 "title":{"text":"(B)","offset":-33,"dx":13},
 "data":{"name":"B"},
 "transform":[{"fold":["BCN","HCN","NCN","SCN"],"as":["series","v"]}],
 "layer":[
  {"mark":{"type":"line","strokeWidth":1},
   "encoding":{
    "x":{"field":"t","type":"quantitative","scale":{"domain":[0,850],"nice":false},"axis":{"orient":"bottom","title":"Time (sec.)","values":[0,50,100,150,200,250,300,350,400,450,500,550,600,650,700,750,800,850],"labelExpr":"datum.value % 100 === 0 ? datum.label : ''","tickSize":{"condition":{"test":"datum.value % 100 !== 0","value":-3},"value":-6},"titlePadding":2}},
    "y":{"field":"v","type":"quantitative","scale":{"domain":[0,10],"nice":false},"axis":{"orient":"left","title":"Photocurrent (μA)","titleFontSize":19,"format":"d","values":[0,0.5,1,1.5,2,2.5,3,3.5,4,4.5,5,5.5,6,6.5,7,7.5,8,8.5,9,9.5,10],"labelExpr":"datum.value % 1 === 0 ? datum.label : ''","tickSize":{"condition":{"test":"datum.value % 1 !== 0","value":-3},"value":-6},"titlePadding":2}},
    "color":{"field":"series","type":"nominal","scale":{"domain":["BCN","HCN","NCN","SCN"],"range":["#000000","#FF0000","#0000FF","#168C84"]},
     "legend":{"orient":"none","legendX":135,"legendY":11,"title":null,"columns":2,"columnPadding":23,"rowPadding":-2,"symbolType":"M-2.8,0H2.8","symbolStrokeWidth":2,"symbolOffset":8,"labelOffset":10,"labelFontSize":13}}
   }},
  {"mark":{"type":"line","opacity":0},
   "encoding":{
    "x":{"field":"t","type":"quantitative","scale":{"domain":[0,850],"nice":false},"axis":{"orient":"top","title":null,"labels":false,"values":[0,50,100,150,200,250,300,350,400,450,500,550,600,650,700,750,800,850],"tickSize":{"condition":{"test":"datum.value % 100 !== 0","value":-3},"value":-6}}},
    "y":{"field":"v","type":"quantitative","scale":{"domain":[0,10],"nice":false},"axis":{"orient":"right","title":null,"labels":false,"values":[0,0.5,1,1.5,2,2.5,3,3.5,4,4.5,5,5.5,6,6.5,7,7.5,8,8.5,9,9.5,10],"tickSize":{"condition":{"test":"datum.value % 1 !== 0","value":-3},"value":-6}}},
    "detail":{"field":"series","type":"nominal"}
   }}
 ],
 "resolve":{"axis":{"x":"independent","y":"independent"}}
},
{
 "width":284,"height":208,
 "title":{"text":"(C)","offset":-33,"dx":13},
 "data":{"name":"C"},
 "layer":[
  {"mark":{"type":"line","strokeWidth":1.5},
   "encoding":{
    "x":{"field":"x","type":"quantitative","scale":{"domain":[-5,400],"nice":false,"zero":false},"axis":{"orient":"bottom","title":"Z'/kohm","values":[0,25,50,75,100,125,150,175,200,225,250,275,300,325,350,375,400],"labelExpr":"datum.value % 50 === 0 ? datum.label : ''","tickSize":{"condition":{"test":"datum.value % 50 !== 0","value":-3},"value":-6},"titlePadding":3}},
    "y":{"field":"y","type":"quantitative","scale":{"domain":[-12,600],"nice":false,"zero":false},"axis":{"orient":"left","title":"-Z''/kohm","values":[0,50,100,150,200,250,300,350,400,450,500,550,600],"labelExpr":"datum.value % 100 === 0 ? datum.label : ''","tickSize":{"condition":{"test":"datum.value % 100 !== 0","value":-3},"value":-6},"titlePadding":8}},
    "color":{"field":"s","type":"nominal","scale":{"domain":["BCN in dark","BCN in light","HCN in dark","HCN in light","NCN in dark","NCN in light","SCN in dark","SCN in light"],"range":["#000000","#FF0000","#0000FF","#168C84","#FF00FF","#808000","#000080","#800000"]},"legend":null}
   }},
  {"mark":{"type":"point","filled":true,"size":40,"opacity":1},
   "encoding":{
    "x":{"field":"x","type":"quantitative","scale":{"domain":[-5,400],"nice":false,"zero":false},"axis":{"orient":"top","title":null,"labels":false,"values":[0,25,50,75,100,125,150,175,200,225,250,275,300,325,350,375,400],"tickSize":{"condition":{"test":"datum.value % 50 !== 0","value":-3},"value":-6}}},
    "y":{"field":"y","type":"quantitative","scale":{"domain":[-12,600],"nice":false,"zero":false},"axis":{"orient":"right","title":null,"labels":false,"values":[0,50,100,150,200,250,300,350,400,450,500,550,600],"tickSize":{"condition":{"test":"datum.value % 100 !== 0","value":-3},"value":-6}}},
    "color":{"field":"s","type":"nominal","scale":{"domain":["BCN in dark","BCN in light","HCN in dark","HCN in light","NCN in dark","NCN in light","SCN in dark","SCN in light"],"range":["#000000","#FF0000","#0000FF","#168C84","#FF00FF","#808000","#000080","#800000"]},"legend":null},
    "shape":{"field":"s","type":"nominal","scale":{"domain":["BCN in dark","BCN in light","HCN in dark","HCN in light","NCN in dark","NCN in light","SCN in dark","SCN in light"],"range":["square","circle","triangle-up","triangle-down","triangle-left","triangle-right","diamond","M0,-1L0.951,-0.309L0.588,0.809L-0.588,0.809L-0.951,-0.309Z"]},"legend":null}
   }},
  {"mark":{"type":"point","filled":true,"size":64,"opacity":0},
   "encoding":{
    "x":{"field":"x","type":"quantitative","scale":{"domain":[-5,400],"nice":false,"zero":false},"axis":null},
    "y":{"field":"y","type":"quantitative","scale":{"domain":[-12,600],"nice":false,"zero":false},"axis":null},
    "color":{"field":"s","type":"nominal","scale":{"domain":["BCN in dark","BCN in light","HCN in dark","HCN in light","NCN in dark","NCN in light","SCN in dark","SCN in light"],"range":["#000000","#FF0000","#0000FF","#168C84","#FF00FF","#808000","#000080","#800000"]},"legend":{"orient":"none","legendX":186,"legendY":92,"title":null,"rowPadding":-1,"symbolSize":64,"symbolOffset":6,"labelOffset":8,"labelFontSize":10.5}},
    "stroke":{"field":"s","type":"nominal","scale":{"domain":["BCN in dark","BCN in light","HCN in dark","HCN in light","NCN in dark","NCN in light","SCN in dark","SCN in light"],"range":["#000000","#FF0000","#0000FF","#168C84","#FF00FF","#808000","#000080","#800000"]},"legend":{"orient":"none","legendX":186,"legendY":92,"title":null,"rowPadding":-1,"symbolSize":64,"symbolOffset":6,"labelOffset":8,"labelFontSize":10.5}},
    "shape":{"field":"s","type":"nominal","scale":{"domain":["BCN in dark","BCN in light","HCN in dark","HCN in light","NCN in dark","NCN in light","SCN in dark","SCN in light"],"range":["M-3,0H3M-0.7,-0.7H0.7V0.7H-0.7Z","M-3,0H3M0.75,0A0.75,0.75,0,1,1,-0.75,0A0.75,0.75,0,1,1,0.75,0Z","M-3,0H3M0,-0.85L0.85,0.7H-0.85Z","M-3,0H3M0,0.85L0.85,-0.7H-0.85Z","M-3,0H3M-0.85,0L0.7,-0.85V0.85Z","M-3,0H3M0.85,0L-0.7,-0.85V0.85Z","M-3,0H3M0,-0.9L0.75,0L0,0.9L-0.75,0Z","M-3,0H3M0,-0.85L0.82,-0.27L0.51,0.7H-0.51L-0.82,-0.27Z"]},"legend":{"orient":"none","legendX":186,"legendY":92,"title":null,"rowPadding":-1,"symbolSize":64,"symbolOffset":6,"labelOffset":8,"labelFontSize":10.5}}
   }}
 ],
 "resolve":{"axis":{"x":"independent","y":"independent"},"scale":{"color":"independent","shape":"independent","stroke":"independent"},"legend":{"color":"independent","shape":"independent","stroke":"independent"}}
},
{
 "width":284,"height":208,
 "title":{"text":"(D)","offset":-33,"dx":13},
 "data":{"name":"D"},
 "transform":[{"fold":["SCN","BCN"],"as":["series","v"]}],
 "layer":[
  {"mark":{"type":"line","strokeWidth":1.5},
   "encoding":{
    "x":{"field":"t","type":"quantitative","scale":{"domain":[0,25],"nice":false},"axis":{"orient":"bottom","title":"Time (hour)","values":[0,1,2,3,4,5,6,7,8,9,10,11,12,13,14,15,16,17,18,19,20,21,22,23,24,25],"labelExpr":"datum.value % 2 === 0 ? datum.label : ''","tickSize":{"condition":{"test":"datum.value % 2 !== 0","value":-3},"value":-6},"titlePadding":3}},
    "y":{"field":"v","type":"quantitative","scale":{"domain":[0,14],"nice":false},"axis":{"orient":"left","title":"Photocurrent (μA)","titleFontSize":19,"values":[0,1,2,3,4,5,6,7,8,9,10,11,12,13,14],"labelExpr":"datum.value % 2 === 0 ? datum.label : ''","tickSize":{"condition":{"test":"datum.value % 2 !== 0","value":-3},"value":-6},"titlePadding":3}},
    "color":{"field":"series","type":"nominal","scale":{"domain":["SCN","BCN"],"range":["#0000FF","#FF0000"]},"legend":null}
   }},
  {"transform":[{"filter":"datum.series === 'SCN'"}],
   "mark":{"type":"point","filled":true,"shape":"triangle-up","size":14,"opacity":1,"color":"#0000FF"},
   "encoding":{
    "x":{"field":"t","type":"quantitative","scale":{"domain":[0,25],"nice":false},"axis":{"orient":"top","title":null,"labels":false,"values":[0,1,2,3,4,5,6,7,8,9,10,11,12,13,14,15,16,17,18,19,20,21,22,23,24,25],"tickSize":{"condition":{"test":"datum.value % 2 !== 0","value":-3},"value":-6}}},
    "y":{"field":"v","type":"quantitative","scale":{"domain":[0,14],"nice":false},"axis":{"orient":"right","title":null,"labels":false,"values":[0,1,2,3,4,5,6,7,8,9,10,11,12,13,14],"tickSize":{"condition":{"test":"datum.value % 2 !== 0","value":-3},"value":-6}}}
   }},
  {"transform":[{"filter":"datum.series === 'BCN'"}],
   "mark":{"type":"point","filled":false,"shape":"circle","size":14,"strokeWidth":1,"opacity":1,"color":"#FF0000"},
   "encoding":{
    "x":{"field":"t","type":"quantitative","scale":{"domain":[0,25],"nice":false},"axis":null},
    "y":{"field":"v","type":"quantitative","scale":{"domain":[0,14],"nice":false},"axis":null}
   }},
  {"mark":{"type":"point","filled":true,"size":100,"opacity":0},
   "encoding":{
    "x":{"field":"t","type":"quantitative","scale":{"domain":[0,25],"nice":false},"axis":null},
    "y":{"field":"v","type":"quantitative","scale":{"domain":[0,14],"nice":false},"axis":null},
    "color":{"field":"series","type":"nominal","scale":{"domain":["SCN","BCN"],"range":["#0000FF","#FFFFFF"]},"legend":{"orient":"none","legendX":202,"legendY":22,"title":null,"rowPadding":1,"symbolOffset":9,"labelOffset":10,"labelFontSize":13}},
    "stroke":{"field":"series","type":"nominal","scale":{"domain":["SCN","BCN"],"range":["#0000FF","#FF0000"]},"legend":{"orient":"none","legendX":202,"legendY":22,"title":null,"rowPadding":1,"symbolOffset":9,"labelOffset":10,"labelFontSize":13}},
    "shape":{"field":"series","type":"nominal","scale":{"domain":["SCN","BCN"],"range":["M-2.8,0H2.8M0,-0.5L0.5,0.4H-0.5Z","M-2.8,0H2.8M0.45,0A0.45,0.45,0,1,1,-0.45,0A0.45,0.45,0,1,1,0.45,0Z"]},"legend":{"orient":"none","legendX":202,"legendY":22,"title":null,"rowPadding":1,"symbolOffset":9,"labelOffset":10,"labelFontSize":13}}
   }}
 ],
 "resolve":{"axis":{"x":"independent","y":"independent"},"scale":{"color":"independent","shape":"independent","stroke":"independent"},"legend":{"color":"independent","shape":"independent","stroke":"independent"}}
}
]
}
